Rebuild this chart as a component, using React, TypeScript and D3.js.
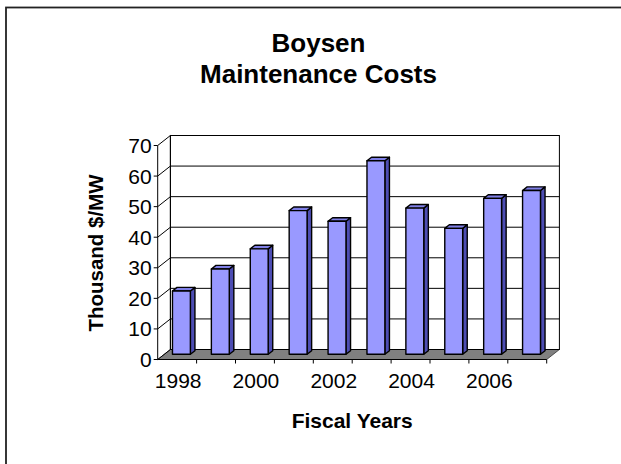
import { useEffect, useRef } from "react";
import * as d3 from "d3";

const years = ["1998", "1999", "2000", "2001", "2002", "2003", "2004", "2005", "2006", "2007"];
const costs = [20.7, 27.9, 34.5, 47.0, 43.5, 63.3, 47.8, 41.2, 51.0, 53.6];
const yTicks = [0, 10, 20, 30, 40, 50, 60, 70];
const xLabels = ["1998", "2000", "2002", "2004", "2006"];

const W = 621;
const H = 464;
const FONT = "'Liberation Sans', Arial, sans-serif";

export default function App() {
  const svgRef = useRef<SVGSVGElement>(null);

  useEffect(() => {
    if (!svgRef.current) return;
    document.body.style.margin = "0";

    const svg = d3.select(svgRef.current);
    svg.selectAll("*").remove();

    // depth offset of the 3d box
    const DX = 12.7;
    const DY = -10;

    const x = d3.scaleBand().domain(years).range([157.7, 546.7]).padding(0);
    const y = d3.scaleLinear().domain([0, 70]).range([359.5, 145.5]);
    const x0 = x.range()[0];
    const x1 = x.range()[1];
    const bw = x.bandwidth();

    svg.append("rect").attr("width", W).attr("height", H).attr("fill", "#fff");

    // outer frame
    svg
      .append("rect")
      .attr("x", 6)
      .attr("y", 7.5)
      .attr("width", W)
      .attr("height", H)
      .attr("fill", "none")
      .attr("stroke", "#222")
      .attr("stroke-width", 1.8);

    // floor
    svg
      .append("polygon")
      .attr(
        "points",
        [
          [x0, y(0)],
          [x1, y(0)],
          [x1 + DX, y(0) + DY],
          [x0 + DX, y(0) + DY],
        ].join(" ")
      )
      .attr("fill", "#808080")
      .attr("stroke", "#333")
      .attr("stroke-width", 0.8);

    // back wall
    svg
      .append("rect")
      .attr("x", x0 + DX)
      .attr("y", y(70) + DY)
      .attr("width", x1 - x0)
      .attr("height", y(0) - y(70))
      .attr("fill", "#fff")
      .attr("stroke", "#000")
      .attr("stroke-width", 1);

    // gridlines: diagonal on the side wall + horizontal on the back wall
    const grid = svg.append("g").attr("stroke", "#000").attr("stroke-width", 1).attr("fill", "none");
    yTicks.forEach((t) => {
      grid
        .append("line")
        .attr("x1", x0)
        .attr("y1", y(t))
        .attr("x2", x0 + DX)
        .attr("y2", y(t) + DY);
      if (t > 0 && t < 70) {
        grid
          .append("line")
          .attr("x1", x0 + DX)
          .attr("y1", y(t) + DY)
          .attr("x2", x1 + DX)
          .attr("y2", y(t) + DY);
      }
    });
    grid
      .append("line")
      .attr("x1", x0 + DX)
      .attr("y1", y(0) + DY)
      .attr("x2", x0 + DX)
      .attr("y2", y(70) + DY);

    // value axis
    const ax = svg.append("g").attr("stroke", "#000").attr("stroke-width", 1);
    ax.append("line").attr("x1", x0).attr("y1", y(0)).attr("x2", x0).attr("y2", y(70));
    yTicks.forEach((t) => {
      ax.append("line").attr("x1", x0 - 4).attr("y1", y(t)).attr("x2", x0).attr("y2", y(t));
    });
    svg
      .append("g")
      .selectAll("text")
      .data(yTicks)
      .enter()
      .append("text")
      .attr("x", x0 - 6)
      .attr("y", (d) => y(d))
      .attr("dy", "0.36em")
      .attr("text-anchor", "end")
      .attr("font-family", FONT)
      .attr("font-size", 21)
      .attr("fill", "#000")
      .text((d) => d);

    // category axis
    ax.append("line").attr("x1", x0).attr("y1", y(0)).attr("x2", x1).attr("y2", y(0));
    years.forEach((yr) => {
      const tx = (x(yr) as number) + bw;
      ax.append("line").attr("x1", tx).attr("y1", y(0)).attr("x2", tx).attr("y2", y(0) + 4);
    });
    svg
      .append("g")
      .selectAll("text")
      .data(xLabels)
      .enter()
      .append("text")
      .attr("x", (d) => (x(d) as number) + bw / 2 + 1)
      .attr("y", 387.5)
      .attr("text-anchor", "middle")
      .attr("font-family", FONT)
      .attr("font-size", 21)
      .attr("fill", "#000")
      .text((d) => d);

    // 3d bars
    const d0 = 0.52;
    const dd = 0.36;
    const bars = svg.append("g").attr("stroke", "#000").attr("stroke-width", 1.4).attr("stroke-linejoin", "round");
    years.forEach((yr, i) => {
      const v = costs[i];
      const fx = (x(yr) as number) + d0 * DX + 0.21 * bw;
      const fw = 0.46 * bw;
      const fy = y(0) + d0 * DY;
      const ty = y(v) + d0 * DY;
      const ox = dd * DX;
      const oy = dd * DY;
      bars
        .append("polygon")
        .attr("points", [[fx + fw, ty], [fx + fw + ox, ty + oy], [fx + fw + ox, fy + oy], [fx + fw, fy]].join(" "))
        .attr("fill", "#4d4db3");
      bars
        .append("polygon")
        .attr("points", [[fx, ty], [fx + fw, ty], [fx + fw + ox, ty + oy], [fx + ox, ty + oy]].join(" "))
        .attr("fill", "#7f7fe6");
      bars
        .append("rect")
        .attr("x", fx)
        .attr("y", ty)
        .attr("width", fw)
        .attr("height", fy - ty)
        .attr("fill", "#9999ff");
    });

    // titles
    const title = svg
      .append("text")
      .attr("text-anchor", "middle")
      .attr("font-family", FONT)
      .attr("font-weight", "bold")
      .attr("font-size", 26)
      .attr("fill", "#000");
    title.append("tspan").attr("x", 318.5).attr("y", 51.7).text("Boysen");
    title.append("tspan").attr("x", 318.5).attr("y", 82.7).text("Maintenance Costs");

    svg
      .append("text")
      .attr("transform", "translate(102.5, 253) rotate(-90)")
      .attr("text-anchor", "middle")
      .attr("font-family", FONT)
      .attr("font-weight", "bold")
      .attr("font-size", 20.5)
      .attr("fill", "#000")
      .text("Thousand $/MW");

    svg
      .append("text")
      .attr("x", (x0 + x1) / 2)
      .attr("y", 428.3)
      .attr("text-anchor", "middle")
      .attr("font-family", FONT)
      .attr("font-weight", "bold")
      .attr("font-size", 21)
      .attr("fill", "#000")
      .text("Fiscal Years");
  }, []);

  return <svg ref={svgRef} width={W} height={H} style={{ display: "block" }} />;
}
